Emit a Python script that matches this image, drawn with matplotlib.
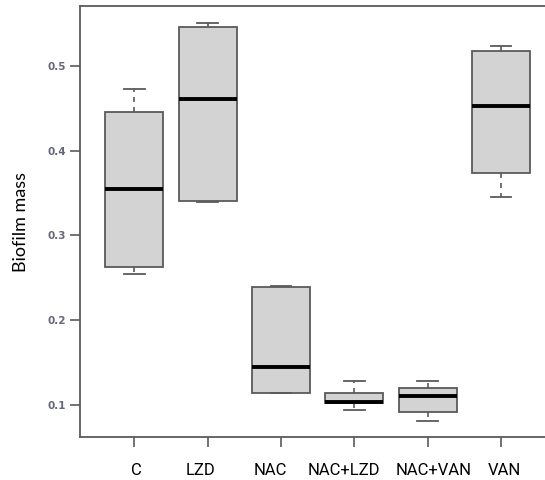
import matplotlib
matplotlib.use('Agg')
import matplotlib.pyplot as plt
from matplotlib.transforms import ScaledTranslation

groups = ['C', 'LZD', 'NAC', 'NAC+LZD', 'NAC+VAN', 'VAN']
whisk_lo = [0.255, 0.339, 0.114, 0.0945, 0.081, 0.345]
q1 = [0.263, 0.341, 0.114, 0.103, 0.092, 0.374]
medians = [0.355, 0.461, 0.145, 0.104, 0.111, 0.453]
q3 = [0.446, 0.546, 0.239, 0.114, 0.120, 0.517]
whisk_hi = [0.473, 0.551, 0.241, 0.128, 0.128, 0.524]

# labels in the original sit a bit off their ticks (pixels)
label_shift = [2, -7, -11, -10, 6, 3]

stats = []
for i in range(len(groups)):
    stats.append({'label': groups[i], 'whislo': whisk_lo[i], 'q1': q1[i],
                  'med': medians[i], 'q3': q3[i], 'whishi': whisk_hi[i],
                  'fliers': []})

fig = plt.figure(figsize=(5.45, 4.8), dpi=100)
ax = fig.add_axes([80/545, 43/480, 465/545, 431/480])

edge = '#5a5a5a'
ax.bxp(stats, positions=range(1, 7), widths=0.79, capwidths=0.28,
       showfliers=False, patch_artist=True,
       boxprops=dict(facecolor='#d3d3d3', edgecolor=edge, linewidth=1.3),
       medianprops=dict(color='black', linewidth=2.8),
       whiskerprops=dict(color=edge, linewidth=1.2, linestyle=(0, (3, 3))),
       capprops=dict(color=edge, linewidth=1.3))

ax.set_xlim(0.26, 6.6)
ax.set_ylim(0.0624, 0.5706)
ax.set_yticks([0.1, 0.2, 0.3, 0.4, 0.5])
ax.set_yticklabels(['0.1', '0.2', '0.3', '0.4', '0.5'], fontsize=7.5,
                   color='#66667a', fontweight='bold')
ax.set_xticks(range(1, 7))
ax.set_xticklabels(groups, fontsize=12, family=['Liberation Sans Narrow', 'Roboto'])
ax.tick_params(axis='x', length=7, width=1.2, color=edge, pad=11.5)
ax.tick_params(axis='y', length=7, width=1.2, color=edge, pad=3)
ax.set_ylabel('Biofilm mass', fontsize=13, family='Lato', labelpad=13)

for lab, dx in zip(ax.get_xticklabels(), label_shift):
    lab.set_transform(lab.get_transform() + ScaledTranslation(dx / 100, 0, fig.dpi_scale_trans))

ax.spines['right'].set_visible(False)
for s in ['left', 'top', 'bottom']:
    ax.spines[s].set_color(edge)
    ax.spines[s].set_linewidth(1.3)

fig.savefig('out.png', dpi=100)
